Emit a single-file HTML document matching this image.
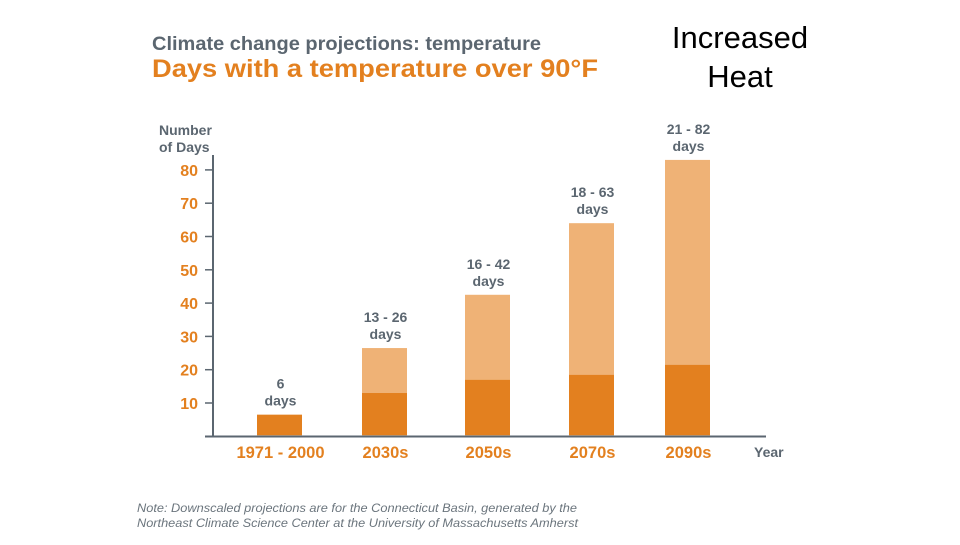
<!DOCTYPE html>
<html><head><meta charset="utf-8"><style>
body{margin:0;background:#fff;}
svg text{font-family:"Liberation Sans",Arial,sans-serif;font-weight:bold;}
</style></head><body>
<svg width="960" height="540" viewBox="0 0 960 540">
<text x="152" y="50" font-size="19" textLength="389" lengthAdjust="spacingAndGlyphs" fill="#5b6670">Climate change projections: temperature</text>
<text x="152" y="77" font-size="25" textLength="446" lengthAdjust="spacingAndGlyphs" fill="#e3801f">Days with a temperature over 90°F</text>
<text x="740" y="48" font-size="31" fill="#000" text-anchor="middle" style="font-weight:normal">Increased</text>
<text x="740" y="87" font-size="31" fill="#000" text-anchor="middle" style="font-weight:normal">Heat</text>
<text x="159" y="135" font-size="14" fill="#5b6670">Number</text>
<text x="159" y="152" font-size="14" fill="#5b6670">of Days</text>
<g id="axes"></g>
<g id="bars"></g>
<text x="754" y="457" font-size="14" fill="#5b6670">Year</text>
<text x="137" y="512" font-size="12.3" textLength="440" lengthAdjust="spacingAndGlyphs" font-style="italic" fill="#6b757d" style="font-weight:normal">Note: Downscaled projections are for the Connecticut Basin, generated by the</text>
<text x="137" y="527" font-size="12.3" textLength="441" lengthAdjust="spacingAndGlyphs" font-style="italic" fill="#6b757d" style="font-weight:normal">Northeast Climate Science Center at the University of Massachusetts Amherst</text>
</svg>
<script>
const categories=["1971 - 2000","2030s","2050s","2070s","2090s"];
const lowValues=[6.5,13,17,18.5,21.5];
const highValues=[6.5,26.5,42.5,64,83];
const barLabels=["6","13 - 26","16 - 42","18 - 63","21 - 82"];
const yTicks=[10,20,30,40,50,60,70,80];
const NS="http://www.w3.org/2000/svg";
function y(v){return 436.3-v*3.33;}
const centers=[279.5,384.5,487.5,591.5,687.5];
function x(i){return centers[i];}
function mk(tag,attrs,parent){const e=document.createElementNS(NS,tag);for(const k in attrs)e.setAttribute(k,attrs[k]);parent.appendChild(e);return e;}
const ax=document.getElementById('axes'),bg=document.getElementById('bars');
let l=mk('line',{x1:213,y1:155,x2:213,y2:437,stroke:'#5b6670','stroke-width':2},ax);


l=mk('line',{x1:205,y1:436.5,x2:766,y2:436.5,stroke:'#5b6670','stroke-width':2},ax);


yTicks.forEach(t=>{
 const tk=mk('line',{x1:205,y1:y(t),x2:213,y2:y(t),stroke:'#5b6670','stroke-width':1.5},ax);
 
 
 const tx=mk('text',{x:198,y:y(t)+6,'font-size':16,fill:'#e3801f','text-anchor':'end'},ax);
 
 
 tx.textContent=t;
});
categories.forEach((c,i)=>{
 const cx=x(i),w=45;
 if(highValues[i]>lowValues[i]){
  const r=mk('rect',{x:cx-w/2,y:y(highValues[i]),width:w,height:y(lowValues[i])-y(highValues[i]),fill:'#efb276'},bg);
  
  
 }
 const r2=mk('rect',{x:cx-w/2,y:y(lowValues[i]),width:w,height:y(0)-y(lowValues[i])-1,fill:'#e3801f'},bg);
 
 
 const top=y(highValues[i]);
 const t1=mk('text',{x:cx+1,y:top-26,'font-size':14,fill:'#5b6670','text-anchor':'middle'},bg);
 
 
 t1.textContent=barLabels[i];
 const t2=mk('text',{x:cx+1,y:top-9,'font-size':14,fill:'#5b6670','text-anchor':'middle'},bg);
 
 
 t2.textContent='days';
 const xl=mk('text',{x:cx+1,y:458,'font-size':16.5,fill:'#e3801f','text-anchor':'middle'},bg);
 
 
 xl.textContent=c;
});
</script>
</body></html>
